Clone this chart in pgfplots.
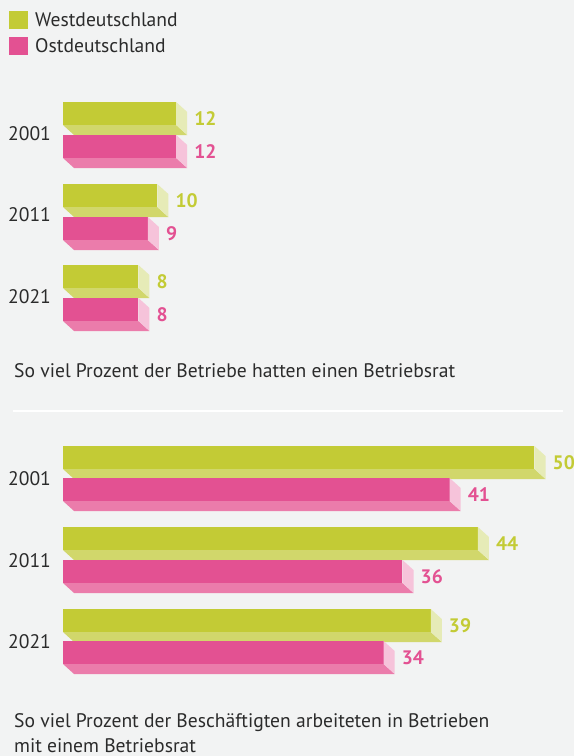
\documentclass[border=0pt]{standalone}
\usepackage{fontspec}
\setmainfont{PT Sans}
\usepackage{pgfplots}
\pgfplotsset{compat=1.18}
\definecolor{bg}{HTML}{F2F3F3}
\definecolor{gF}{HTML}{C3CB35}
\definecolor{gB}{HTML}{D1D76B}
\definecolor{gS}{HTML}{E6EBB7}
\definecolor{pF}{HTML}{E35192}
\definecolor{pB}{HTML}{EB7CAB}
\definecolor{pS}{HTML}{F6C3DA}
\definecolor{txt}{HTML}{2B2B2B}
\newcommand\valfont{\fontsize{19.5pt}{21pt}\selectfont\bfseries}
\newcommand\lblfont{\fontsize{19.6pt}{22pt}\selectfont}
% #1 value, #2 top (px from top), #3 front, #4 bottom face, #5 side face
\newcommand\tdbar[5]{%
  \pgfmathsetmacro\xb{#1+1.17}%
  \pgfmathsetmacro\ya{#2}%
  \pgfmathsetmacro\yb{#2+23}%
  \pgfmathsetmacro\yc{#2+33}%
  \pgfmathsetmacro\yd{#2+10}%
  \pgfmathsetmacro\ym{#2+17}%
  \edef\tmp{%
    \noexpand\addplot[fill=#3,draw=none] coordinates {(0,\ya) (#1,\ya) (#1,\yb) (0,\yb)} --cycle;
    \noexpand\addplot[fill=#4,draw=none] coordinates {(0,\yb) (#1,\yb) (\xb,\yc) (1.17,\yc)} --cycle;
    \noexpand\addplot[fill=#5,draw=none] coordinates {(#1,\ya) (\xb,\yd) (\xb,\yc) (#1,\yb)} --cycle;
    \noexpand\node[anchor=west,inner sep=0pt,xshift=7pt,text=#3,font=\noexpand\valfont] at (axis cs:\xb,\ym) {#1};
  }\tmp}
\begin{document}
\begin{tikzpicture}[x=1pt,y=1pt]
\fill[bg] (0,0) rectangle (574,756);
\begin{axis}[at={(0,0)},anchor=south west,
  scale only axis, width=574pt, height=756pt,
  hide axis, clip=false,
  xmin=-6.681, xmax=54.19, ymin=0, ymax=756, y dir=reverse]
% top panel: share of establishments with works council
\tdbar{12}{102}{gF}{gB}{gS}
\tdbar{12}{135}{pF}{pB}{pS}
\tdbar{10}{184}{gF}{gB}{gS}
\tdbar{9}{217}{pF}{pB}{pS}
\tdbar{8}{265}{gF}{gB}{gS}
\tdbar{8}{298}{pF}{pB}{pS}
% bottom panel: share of employees
\tdbar{50}{446}{gF}{gB}{gS}
\tdbar{41}{478}{pF}{pB}{pS}
\tdbar{44}{527}{gF}{gB}{gS}
\tdbar{36}{560}{pF}{pB}{pS}
\tdbar{39}{609}{gF}{gB}{gS}
\tdbar{34}{641}{pF}{pB}{pS}
\end{axis}
% legend
\fill[gF] (9,745) rectangle (28,727);
\fill[pF] (9,719) rectangle (28,701);
\node[anchor=west,inner sep=0pt,text=txt,font=\lblfont] at (35,736) {Westdeutschland};
\node[anchor=west,inner sep=0pt,text=txt,font=\lblfont] at (35,710) {Ostdeutschland};
% year labels
\foreach \y/\t in {134/2001,215/2011,297/2021,479/2001,561/2011,642/2021}
  \node[anchor=west,inner sep=0pt,text=txt,font=\lblfont] at (8,756-\y) {\t};
% captions
\node[anchor=base west,inner sep=0pt,text=txt,font=\lblfont] at (14,756-378) {So viel Prozent der Betriebe hatten einen Betriebsrat};
\fill[white] (13,756-410) rectangle (563,756-412.5);
\node[anchor=base west,inner sep=0pt,text=txt,font=\lblfont] at (14,756-728) {So viel Prozent der Beschäftigten arbeiteten in Betrieben};
\node[anchor=base west,inner sep=0pt,text=txt,font=\lblfont] at (14,756-752) {mit einem Betriebsrat};
\end{tikzpicture}
\end{document}
